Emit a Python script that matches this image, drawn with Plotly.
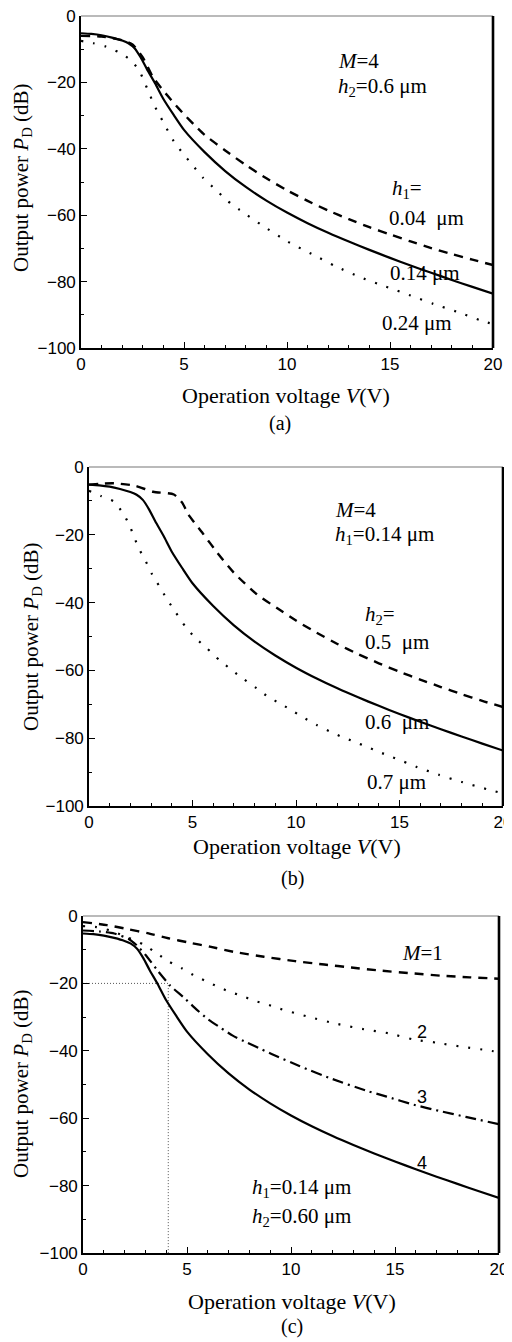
import plotly.graph_objects as go

# ---------------- data ----------------
# common solid curve: M=4, h1=0.14 um, h2=0.6 um
V_solid = [0, 0.5, 1, 1.5, 2, 2.3, 2.6, 2.9, 3.2, 3.6, 4.0, 4.5, 5, 6, 7, 8, 9, 10, 11, 12, 13, 14, 15, 16, 17, 18, 19, 20]
P_solid = [-5.2, -5.4, -5.8, -6.5, -7.4, -8.2, -9.7, -12.5, -16, -20.3, -25, -29.8, -34.3, -41, -46.7, -51.5, -55.6,
           -59.2, -62.4, -65.3, -67.95, -70.45, -72.85, -75.15, -77.35, -79.5, -81.6, -83.65]

# panel (a): h1 = 0.04 um (dashed), 0.24 um (dotted)
V_a_004 = [0, 1, 2, 2.5, 3, 3.5, 4, 4.5, 5, 5.5, 6, 7, 8, 9, 10, 11, 12, 13, 14, 15, 16, 17, 18, 19, 20]
P_a_004 = [-6.0, -6.2, -7.3, -8.6, -12.5, -18.5, -22.5, -26.2, -29.6, -32.8, -35.8, -40.5, -44.9, -48.9, -52.5,
           -55.7, -58.6, -61.2, -63.6, -65.8, -67.9, -69.9, -71.7, -73.4, -75.0]
V_a_024 = [0, 0.6, 1.2, 1.8, 2.35, 2.8, 3.05, 3.3, 3.55, 3.85, 4.15, 4.5, 4.95, 5.4, 5.9, 6.5, 7.1, 7.7, 8.85,
           10.05, 11.3, 12.4, 13.6, 14.8, 16.0, 17.1, 18.3, 19.45, 20]
P_a_024 = [-7.5, -8.2, -9.2, -10.8, -13.0, -16.1, -19.5, -23.1, -26.8, -30.3, -33.8, -37.7, -41.4, -44.8, -48.6,
           -52.1, -55.6, -58.4, -63.3, -68.0, -72.0, -75.5, -78.8, -81.5, -84.2, -86.7, -89.2, -91.8, -92.8]

# panel (b): h2 = 0.5 um (dashed), 0.7 um (dotted)
V_b_05 = [0, 0.6, 1.2, 2.2, 3.1, 4.1, 4.5, 4.8, 5.5, 6.2, 7.0, 8.1, 9.1, 10, 11, 12, 13, 14, 15, 16, 17, 18, 19, 20]
P_b_05 = [-5.2, -4.9, -4.8, -5.5, -7.3, -8.1, -10.5, -14, -19.6, -25.3, -31.2, -37.5, -41.7, -45.3, -48.9, -52.2,
          -55.2, -57.9, -60.4, -62.7, -64.9, -67.0, -69.0, -70.8]
V_b_07 = [0, 0.6, 1.2, 1.65, 1.95, 2.2, 2.45, 2.75, 3.05, 3.4, 3.75, 4.2, 4.65, 5.15, 5.7, 6.3, 6.9, 7.5, 8.1,
          8.65, 9.3, 9.9, 10.45, 11.0, 11.6, 12.2, 12.8, 13.4, 14.0, 14.6, 15.2, 15.8, 16.9, 18.0, 19.2, 20]
P_b_07 = [-7.0, -8.6, -10.2, -13.7, -17.1, -21.0, -24.5, -27.9, -31.7, -35.2, -38.8, -43.0, -47.0, -50.5, -53.5,
          -57.0, -59.9, -62.7, -65.3, -67.8, -70.0, -72.2, -74.2, -76.1, -77.9, -79.6, -81.0, -82.5, -84.0, -85.5,
          -86.9, -88.4, -90.8, -92.9, -95.0, -96.3]

# panel (c): M = 1 (dashed), 2 (dotted), 3 (dash-dot), 4 = solid curve above
V_c_M1 = [0, 1.15, 2.15, 3.1, 4.1, 5.1, 6.1, 7.3, 8.7, 10.2, 11.6, 12.9, 14.3, 15.8, 17.2, 18.6, 20]
P_c_M1 = [-1.8, -2.7, -3.9, -5.1, -6.6, -7.9, -9.1, -10.7, -12.1, -13.4, -14.4, -15.3, -16.2, -17.0, -17.7,
          -18.2, -18.6]
V_c_M2 = [0, 0.65, 1.3, 2.05, 2.95, 3.55, 4.15, 4.75, 5.3, 5.9, 6.5, 7.05, 7.65, 8.2, 8.8, 9.4, 10.9, 12.2, 13.5,
          14.7, 15.85, 17.0, 18.2, 19.4, 20]
P_c_M2 = [-3.0, -3.3, -4.3, -6.1, -8.6, -11.1, -13.6, -15.5, -17.5, -19.3, -21.0, -22.5, -23.7, -25.1, -26.1,
          -27.4, -30.0, -32.0, -33.6, -34.8, -36.6, -37.6, -38.8, -39.8, -40.4]
V_c_M3 = [0, 0.8, 1.5, 2.2, 2.6, 3.0, 3.6, 4.2, 4.85, 5.45, 6.0, 6.65, 7.2, 7.9, 8.6, 9.15, 10.4, 12.0, 13.6, 14.6,
          15.9, 17.1, 18.4, 20]
P_c_M3 = [-4.3, -4.6, -5.2, -6.8, -8.8, -11.5, -16.3, -20.7, -24.2, -27.7, -30.6, -33.3, -35.5, -37.6, -39.6,
          -41.2, -44.5, -48.4, -51.8, -53.6, -56.0, -57.8, -59.6, -61.8]

# guide in panel (c): -20 dB reached at V = 4.1 V
guide_V = 4.1
guide_P = -20

x_range = [0, 20]
y_range = [-100, 0]
x_ticks = [0, 5, 10, 15, 20]
y_ticks = [0, -20, -40, -60, -80, -100]

# ---------------- figure ----------------
OFF = 8                      # default body margin of the html page
W, H = 512 - OFF, 1342 - OFF
fig = go.Figure()

def PX(px):
    return (px - OFF) / W

def PY(py):
    return 1 - (py - OFF) / H

# pixel boxes (in window pixels) of the three plot areas: (left, right, top, bottom)
boxes = [(81, 493, 16, 348), (89, 503, 467, 806), (83, 499, 916, 1253)]

SERIF = "Liberation Serif, Times New Roman, serif"
SANS = "Liberation Sans, Arial, sans-serif"

def xr(i):
    return "x" if i == 0 else f"x{i+1}"

def yr(i):
    return "y" if i == 0 else f"y{i+1}"

SOLID = dict(color="black", width=2.2)
DASH = dict(color="black", width=2.4, dash="9px,7px")
DOT = dict(color="black", width=2.2, dash="2px,10px")
DASHDOT = dict(color="black", width=2.2, dash="11px,5px,2px,5px")

def add(i, xs, ys, line):
    fig.add_trace(go.Scatter(x=xs, y=ys, mode="lines", line=dict(shape="spline", smoothing=0.6, **line),
                             xaxis=xr(i), yaxis=yr(i), showlegend=False, hoverinfo="skip"))

# panel a
add(0, V_a_024, P_a_024, DOT)
add(0, V_a_004, P_a_004, DASH)
add(0, V_solid, P_solid, SOLID)
# panel b
add(1, V_b_07, P_b_07, DOT)
add(1, V_b_05, P_b_05, DASH)
add(1, V_solid, P_solid, SOLID)
# panel c guide lines
fig.add_trace(go.Scatter(x=[x_range[0], guide_V, guide_V], y=[guide_P, guide_P, y_range[0]], mode="lines",
                         line=dict(color="#555555", width=1, dash="1px,2px"),
                         xaxis="x3", yaxis="y3", showlegend=False, hoverinfo="skip"))
add(2, V_c_M1, P_c_M1, DASH)
add(2, V_c_M2, P_c_M2, DOT)
add(2, V_c_M3, P_c_M3, DASHDOT)
add(2, V_solid, P_solid, SOLID)

layout = dict(template="none", width=W, height=H, margin=dict(l=0, r=0, t=0, b=0, autoexpand=False),
              paper_bgcolor="white", plot_bgcolor="white", showlegend=False)

for i, (l, r, t, b) in enumerate(boxes):
    xkey = "xaxis" if i == 0 else f"xaxis{i+1}"
    ykey = "yaxis" if i == 0 else f"yaxis{i+1}"
    layout[xkey] = dict(domain=[PX(l), PX(r)], anchor=yr(i), range=x_range, tickvals=x_ticks,
                        automargin=False, ticklabeloverflow="allow",
                        ticks="inside", ticklen=6, tickwidth=1.3, tickcolor="black",
                        minor=dict(dtick=1, tick0=0, ticks="inside", ticklen=3, tickwidth=1, tickcolor="black",
                                   showgrid=False),
                        showline=True, linewidth=1.6, linecolor="black", mirror=False,
                        showgrid=False, zeroline=False,
                        tickfont=dict(family=SANS, size=17, color="black"))
    layout[ykey] = dict(domain=[PY(b), PY(t)], anchor=xr(i), range=y_range, tickvals=y_ticks,
                        automargin=False, ticklabeloverflow="allow",
                        ticks="inside", ticklen=6, tickwidth=1.3, tickcolor="black",
                        minor=dict(dtick=10, tick0=0, ticks="inside", ticklen=3, tickwidth=1, tickcolor="black",
                                   showgrid=False),
                        showline=True, linewidth=1.6, linecolor="black", mirror=False,
                        showgrid=False, zeroline=False,
                        tickfont=dict(family=SANS, size=17, color="black"))

fig.update_layout(**layout)

shapes = []
for i in range(3):
    # top border (thin grey) and right border (thick black)
    shapes.append(dict(type="line", xref=f"{xr(i)} domain", yref=f"{yr(i)} domain", x0=0, x1=1, y0=1, y1=1,
                       line=dict(color="#777777", width=1.2)))
    shapes.append(dict(type="line", xref=f"{xr(i)} domain", yref=f"{yr(i)} domain", x0=1, x1=1, y0=0, y1=1,
                       line=dict(color="black", width=2.6)))
fig.update_layout(shapes=shapes)

ann = []

def paper_text(px, py, text, size=21, angle=0, family=SERIF):
    ann.append(dict(x=PX(px), y=PY(py), xref="paper", yref="paper", text=text, showarrow=False,
                    xanchor="center", yanchor="middle", textangle=angle,
                    font=dict(family=family, size=size, color="black")))

def data_text(i, vx, vy, text, size=21, family=SERIF, xanchor="left"):
    ann.append(dict(x=vx, y=vy, xref=xr(i), yref=yr(i), text=text, showarrow=False,
                    xanchor=xanchor, yanchor="middle", font=dict(family=family, size=size, color="black")))

ytitle = "Output power <i>P</i><sub>D</sub> (dB)"
xtitle = "Operation voltage <i>V</i>(V)"

# axis titles and panel labels
paper_text(22, 178, ytitle, angle=-90)
paper_text(286, 395, xtitle, size=22)
paper_text(280, 423, "(a)", size=20)

paper_text(32, 637, ytitle, angle=-90)
paper_text(297, 846, xtitle, size=22)
paper_text(292, 878, "(b)", size=20)

paper_text(22, 1084, ytitle, angle=-90)
paper_text(292, 1301, xtitle, size=22)
paper_text(292, 1326, "(c)", size=20)

# panel a labels
data_text(0, 12.4, -13.5, "<i>M</i>=4")
data_text(0, 12.4, -21.3, "<i>h</i><sub>2</sub>=0.6 μm")
data_text(0, 15.0, -52.2, "<i>h</i><sub>1</sub>=")
data_text(0, 14.85, -60.9, "0.04  μm")
data_text(0, 14.9, -77.5, "0.14 μm")
data_text(0, 14.5, -92.6, "0.24 μm")

# panel b labels
data_text(1, 11.8, -12.7, "<i>M</i>=4")
data_text(1, 11.8, -20.1, "<i>h</i><sub>1</sub>=0.14 μm")
data_text(1, 13.25, -43.7, "<i>h</i><sub>2</sub>=")
data_text(1, 13.25, -51.5, "0.5  μm")
data_text(1, 13.25, -75.1, "0.6  μm")
data_text(1, 13.33, -92.8, "0.7 μm")

# panel c labels
data_text(2, 15.24, -11.1, "<i>M</i>=1")
data_text(2, 16.28, -34.3, "2", size=18, family=SANS, xanchor="center")
data_text(2, 16.28, -53.6, "3", size=18, family=SANS, xanchor="center")
data_text(2, 16.28, -73.4, "4", size=18, family=SANS, xanchor="center")
data_text(2, 8.03, -80.8, "<i>h</i><sub>1</sub>=0.14 μm")
data_text(2, 8.03, -89.2, "<i>h</i><sub>2</sub>=0.60 μm")

fig.update_layout(annotations=ann)

fig.write_html("out.html")
